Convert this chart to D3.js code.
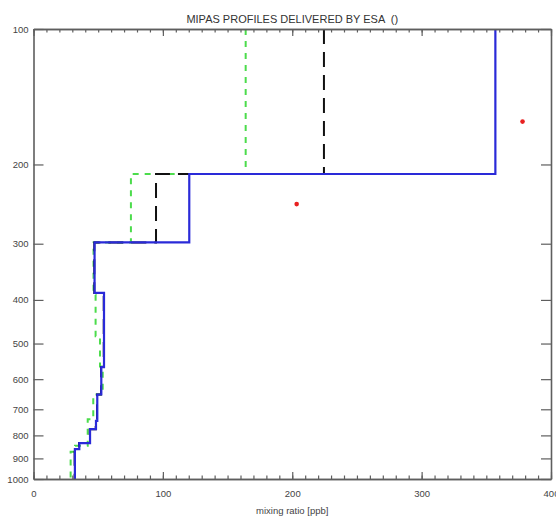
<!DOCTYPE html>
<html>
<head>
<meta charset="utf-8">
<script src="https://cdn.jsdelivr.net/npm/d3@7"></script>
<style>
  body { margin: 0; background: #fff; }
  text { font-family: "Liberation Sans", Arial, sans-serif; }
</style>
</head>
<body>
<svg id="chart" width="556" height="522"></svg>
<script>
// layer boundaries (hPa, top -> bottom) and the value in each layer (ppb)
const blueLevels = [100, 210, 298, 386, 564, 649, 743, 775, 832, 858, 1000]
const blueValues = [357, 120.4, 47.2, 54.5, 52.4, 49.3, 48.3, 43.7, 35.4, 32.0]

const blackLevels = [100, 210, 298, 386, 564, 649, 743, 775, 832, 858, 1000]
const blackValues = [224.5, 94.7, 47.0, 54.3, 52.2, 49.1, 48.1, 43.5, 35.2, 31.8]

const greenLevels = [100, 210, 298, 390, 482, 562, 649, 737, 844, 870, 1000]
const greenValues = [164, 75.3, 46.4, 48.0, 51.4, 53.5, 46.2, 41.9, 32.1, 28.7]

// single red points [value, pressure]
const redPoints = [[203.4, 245], [378, 160.6]]

const xMajor = [0, 100, 200, 300, 400]
const xMinor = d3.range(0, 401, 10)
const yTicks = [100, 200, 300, 400, 500, 600, 700, 800, 900, 1000]

const title = 'MIPAS PROFILES DELIVERED BY ESA \u00a0()'
const xTitle = 'mixing ratio [ppb]'

let svg = d3.select('#chart')

let plotLeft = 33.5, plotRight = 551, plotTop = 29, plotBottom = 479

let x = d3.scaleLinear().domain([0, 400]).range([plotLeft, plotRight])
let y = d3.scaleLog().domain([100, 1000]).range([plotTop, plotBottom])

// turn a layered profile into the points of a step line
let stepPoints = (levels, values) => {
    let pts = []
    values.forEach((v, i) => {
        pts.push([v, levels[i]])
        pts.push([v, levels[i + 1]])
    })
    return pts
}

let line = d3.line()
    .x(d => x(d[0]))
    .y(d => y(d[1]))

let plot = svg.append('g').attr('id', 'profiles')

plot.append('path')
    .attr('d', line(stepPoints(greenLevels, greenValues)))
    .attr('fill', 'none')
    .attr('stroke', '#4cdc4c')
    .attr('stroke-width', 2)
    .attr('stroke-dasharray', '6,6')

plot.append('path')
    .attr('d', line(stepPoints(blackLevels, blackValues)))
    .attr('fill', 'none')
    .attr('stroke', '#111')
    .attr('stroke-width', 2)
    .attr('stroke-dasharray', '15,8')

plot.append('path')
    .attr('d', line(stepPoints(blueLevels, blueValues)))
    .attr('fill', 'none')
    .attr('stroke', '#2a2ad8')
    .attr('stroke-width', 2.2)

plot.selectAll('circle')
    .data(redPoints)
    .enter()
    .append('circle')
    .attr('cx', d => x(d[0]))
    .attr('cy', d => y(d[1]))
    .attr('r', 2.3)
    .attr('fill', '#e82020')

// axes, IDL style: ticks pointing inward on all four sides
let axisColor = '#5e5e5e'
let labelColor = '#444'

let styleAxis = (g) => {
    g.select('.domain').attr('stroke', axisColor).attr('stroke-width', 1.6)
    g.selectAll('.tick line').attr('stroke', axisColor).attr('stroke-width', 1.2)
    g.selectAll('.tick text').attr('fill', labelColor).attr('font-size', 9.5).attr('font-family', '"Liberation Sans", Arial, sans-serif')
}

svg.append('g')
    .attr('transform', `translate(0,${plotBottom})`)
    .call(d3.axisBottom(x).tickValues(xMinor).tickSize(-3.5).tickSizeOuter(0).tickFormat(''))
    .call(styleAxis)

svg.append('g')
    .attr('transform', `translate(0,${plotBottom})`)
    .call(d3.axisBottom(x).tickValues(xMajor).tickSize(-7).tickSizeOuter(0).tickPadding(11).tickFormat(d3.format('d')))
    .call(styleAxis)

svg.append('g')
    .attr('transform', `translate(0,${plotTop})`)
    .call(d3.axisTop(x).tickValues(xMinor).tickSize(-3.5).tickSizeOuter(0).tickFormat(''))
    .call(styleAxis)

svg.append('g')
    .attr('transform', `translate(0,${plotTop})`)
    .call(d3.axisTop(x).tickValues(xMajor).tickSize(-7).tickSizeOuter(0).tickFormat(''))
    .call(styleAxis)

svg.append('g')
    .attr('transform', `translate(${plotLeft},0)`)
    .call(d3.axisLeft(y).tickValues(yTicks).tickSize(-10).tickSizeOuter(0).tickPadding(5).tickFormat(d3.format('d')))
    .call(styleAxis)

svg.append('g')
    .attr('transform', `translate(${plotRight},0)`)
    .call(d3.axisRight(y).tickValues(yTicks).tickSize(-10).tickSizeOuter(0).tickFormat(''))
    .call(styleAxis)

svg.append('text')
    .attr('x', (plotLeft + plotRight) / 2)
    .attr('y', 23)
    .attr('text-anchor', 'middle')
    .attr('font-size', 11)
    .attr('fill', '#333')
    .text(title)

svg.append('text')
    .attr('x', (plotLeft + plotRight) / 2)
    .attr('y', 514)
    .attr('text-anchor', 'middle')
    .attr('font-size', 9.5)
    .attr('fill', labelColor)
    .text(xTitle)
</script>
</body>
</html>
